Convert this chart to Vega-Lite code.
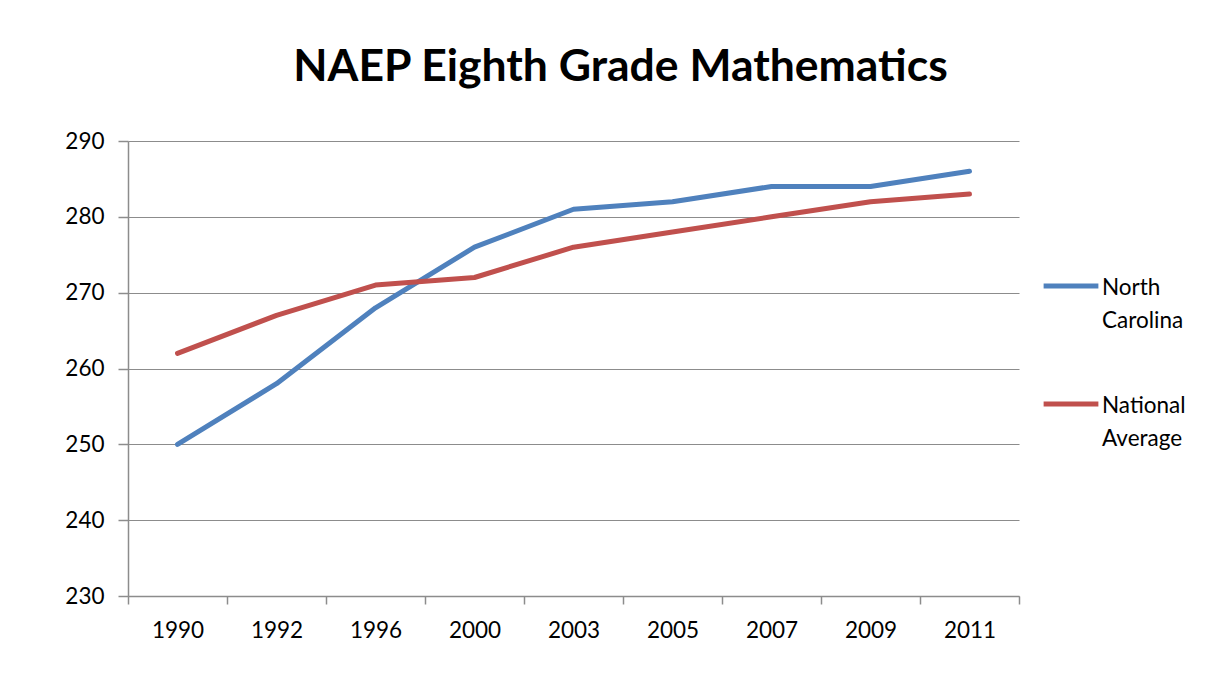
{
  "$schema": "https://vega.github.io/schema/vega-lite/v6.json",
  "autosize": {"type": "none"},
  "width": 891,
  "height": 455,
  "padding": {"left": 128, "top": 141, "right": 207, "bottom": 98},
  "background": "white",
  "title": {
    "text": "NAEP Eighth Grade Mathematics",
    "font": "Lato",
    "fontSize": 44.5,
    "fontWeight": "bold",
    "color": "black",
    "anchor": "middle",
    "frame": "group",
    "dx": 47,
    "offset": 40
  },
  "data": {
    "values": [
      {"year": "1990", "series": "North Carolina", "score": 250},
      {"year": "1992", "series": "North Carolina", "score": 258},
      {"year": "1996", "series": "North Carolina", "score": 268},
      {"year": "2000", "series": "North Carolina", "score": 276},
      {"year": "2003", "series": "North Carolina", "score": 281},
      {"year": "2005", "series": "North Carolina", "score": 282},
      {"year": "2007", "series": "North Carolina", "score": 284},
      {"year": "2009", "series": "North Carolina", "score": 284},
      {"year": "2011", "series": "North Carolina", "score": 286},
      {"year": "1990", "series": "National Average", "score": 262},
      {"year": "1992", "series": "National Average", "score": 267},
      {"year": "1996", "series": "National Average", "score": 271},
      {"year": "2000", "series": "National Average", "score": 272},
      {"year": "2003", "series": "National Average", "score": 276},
      {"year": "2005", "series": "National Average", "score": 278},
      {"year": "2007", "series": "National Average", "score": 280},
      {"year": "2009", "series": "National Average", "score": 282},
      {"year": "2011", "series": "National Average", "score": 283}
    ]
  },
  "mark": {"type": "line", "strokeWidth": 5, "strokeCap": "round", "strokeJoin": "round"},
  "encoding": {
    "x": {
      "field": "year",
      "type": "ordinal",
      "sort": null,
      "scale": {"paddingInner": 0, "paddingOuter": 0},
      "axis": {
        "title": null,
        "labelAngle": 0,
        "grid": false,
        "tickBand": "extent",
        "tickSize": 8,
        "tickColor": "#8c8c8c",
        "domainColor": "#8c8c8c",
        "domainWidth": 1.5,
        "tickWidth": 1.5,
        "labelFont": "Lato",
        "labelFontSize": 22.5,
        "labelColor": "black",
        "labelPadding": 15
      }
    },
    "y": {
      "field": "score",
      "type": "quantitative",
      "scale": {"domain": [230, 290], "zero": false, "nice": false},
      "axis": {
        "title": null,
        "values": [230, 240, 250, 260, 270, 280, 290],
        "grid": true,
        "gridColor": "#8c8c8c",
        "gridWidth": 1.2,
        "tickSize": 10,
        "tickColor": "#8c8c8c",
        "tickWidth": 1.5,
        "domainColor": "#8c8c8c",
        "domainWidth": 1.5,
        "labelFont": "Lato",
        "labelFontSize": 22.5,
        "labelColor": "black",
        "labelPadding": 14
      }
    },
    "color": {
      "field": "series",
      "type": "nominal",
      "sort": ["North Carolina", "National Average"],
      "scale": {"domain": ["North Carolina", "National Average"], "range": ["#4F81BD", "#C0504D"]},
      "legend": {
        "title": null,
        "orient": "none",
        "legendX": 913,
        "legendY": 115,
        "symbolType": "stroke",
        "symbolSize": 3000,
        "symbolStrokeWidth": 5,
        "labelFont": "Lato",
        "labelFontSize": 22.5,
        "labelColor": "black",
        "labelExpr": "split(datum.label, ' ')",
        "labelBaseline": "top",
        "labelOffset": 1,
        "rowPadding": 41,
        "labelLimit": 200,
        "encode": {
          "labels": {"update": {"lineHeight": {"value": 33}, "dy": {"value": -9}}}
        }
      }
    }
  },
  "config": {"view": {"stroke": null}}
}
